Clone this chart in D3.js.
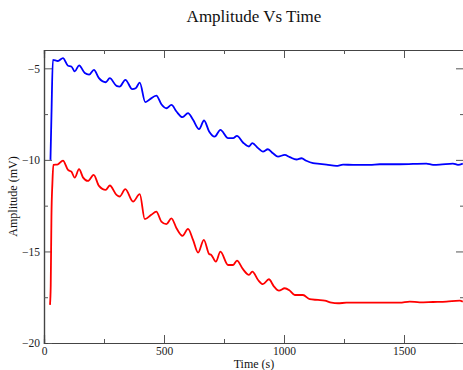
<!DOCTYPE html>
<html>
<head>
<meta charset="utf-8">
<script src="https://cdn.jsdelivr.net/npm/d3@7"></script>
<style>
  body { margin: 0; background: #fff; }
  text { font-family: "Liberation Serif", "DejaVu Serif", serif; }
</style>
</head>
<body>
<div id="chart"></div>
<script>
'use strict';

let width = 463;
let height = 370;
let margin = { top: 50, bottom: 27, left: 44, right: -1 };

// blue trace
const blueTime = [27, 31, 37, 58, 79, 100, 114, 128, 146, 170, 188, 208, 229, 257, 274, 302, 315, 339, 368, 382, 399, 422, 440, 468, 489, 510, 531, 552, 577, 600, 621, 646, 667, 688, 711, 735, 767, 788, 804, 829, 854, 868, 892, 912, 933, 954, 975, 1003, 1024, 1052, 1073, 1093, 1121, 1149, 1177, 1218, 1246, 1288, 1357, 1399, 1482, 1593, 1621, 1649, 1704, 1725, 1745];
const blueAmp = [-10.0, -7.6, -4.54, -4.6, -4.44, -4.86, -4.9, -5.17, -4.84, -5.26, -5.35, -5.08, -5.54, -5.76, -5.54, -5.96, -6.0, -5.63, -6.14, -6.09, -5.78, -6.85, -6.7, -6.49, -6.96, -7.18, -7.0, -7.36, -7.67, -7.45, -7.81, -8.32, -7.85, -8.45, -8.73, -8.36, -8.81, -8.81, -8.69, -9.05, -9.27, -9.09, -9.36, -9.55, -9.42, -9.64, -9.82, -9.73, -9.85, -9.98, -9.91, -10.05, -10.18, -10.22, -10.26, -10.33, -10.26, -10.27, -10.27, -10.24, -10.24, -10.2, -10.27, -10.26, -10.2, -10.27, -10.2];

// red trace
const redTime = [25, 28, 31, 35, 39, 58, 79, 100, 114, 128, 146, 163, 183, 207, 229, 257, 274, 302, 315, 339, 371, 399, 420, 447, 468, 489, 510, 531, 552, 577, 600, 621, 642, 666, 688, 697, 716, 735, 767, 788, 804, 829, 854, 868, 892, 912, 937, 957, 979, 1003, 1024, 1045, 1065, 1079, 1107, 1142, 1170, 1198, 1225, 1260, 1302, 1343, 1413, 1482, 1524, 1565, 1621, 1677, 1732, 1745];
const redAmp = [-17.92, -16.9, -13.1, -11.27, -10.27, -10.24, -10.04, -10.55, -10.64, -10.97, -10.51, -10.97, -11.15, -10.82, -11.42, -11.64, -11.4, -11.91, -12.0, -11.6, -12.28, -11.87, -13.24, -13.0, -12.83, -13.37, -13.51, -13.19, -13.73, -14.15, -13.77, -14.37, -15.07, -14.37, -15.14, -15.19, -15.56, -15.01, -15.74, -15.74, -15.5, -15.97, -16.28, -16.1, -16.56, -16.79, -16.52, -16.89, -17.14, -17.01, -17.14, -17.38, -17.38, -17.38, -17.61, -17.65, -17.69, -17.8, -17.83, -17.8, -17.8, -17.8, -17.8, -17.8, -17.74, -17.78, -17.76, -17.74, -17.69, -17.74];

const xMajor = [0, 500, 1000, 1500];
const xMinor = [250, 750, 1250, 1750];
const yMajor = [-20, -15, -10, -5];
const yMinor = [-17.5, -12.5, -7.5];

const svg = d3.select("#chart")
    .append("svg")
    .attr("width", width)
    .attr("height", height);

const x = d3.scaleLinear()
    .domain([0, 1750])
    .range([margin.left, width - margin.right]);

const y = d3.scaleLinear()
    .domain([-20, -4])
    .range([height - margin.bottom, margin.top]);

const plotW = width - margin.right - margin.left;
const plotH = height - margin.bottom - margin.top;

// frame ticks (all pointing inward)
function styleAxis(g) {
    g.select(".domain").attr("stroke", "#444").attr("stroke-width", 1.2);
    g.selectAll(".tick line").attr("stroke", "#555").attr("stroke-width", 1);
    g.selectAll(".tick text")
        .attr("fill", "#222")
        .style("font-size", "11.5px")
        .style("font-family", "Liberation Serif");
}

svg.append("g")
    .attr("transform", `translate(0,${height - margin.bottom})`)
    .call(d3.axisBottom(x).tickValues(xMajor).tickSize(-8).tickPadding(4).tickFormat(d3.format("d")))
    .call(styleAxis);
svg.append("g")
    .attr("transform", `translate(0,${height - margin.bottom})`)
    .call(d3.axisBottom(x).tickValues(xMinor).tickSize(-4).tickFormat(""))
    .call(styleAxis);

svg.append("g")
    .attr("transform", `translate(0,${margin.top})`)
    .call(d3.axisTop(x).tickValues(xMajor).tickSize(-8).tickFormat(""))
    .call(styleAxis);
svg.append("g")
    .attr("transform", `translate(0,${margin.top})`)
    .call(d3.axisTop(x).tickValues(xMinor).tickSize(-4).tickFormat(""))
    .call(styleAxis);

svg.append("g")
    .attr("transform", `translate(${margin.left},0)`)
    .call(d3.axisLeft(y).tickValues(yMajor).tickSize(-8).tickPadding(4))
    .call(styleAxis);
svg.append("g")
    .attr("transform", `translate(${margin.left},0)`)
    .call(d3.axisLeft(y).tickValues(yMinor).tickSize(-4).tickFormat(""))
    .call(styleAxis);

svg.append("g")
    .attr("transform", `translate(${width - margin.right},0)`)
    .call(d3.axisRight(y).tickValues(yMajor).tickSize(-8).tickFormat(""))
    .call(styleAxis);
svg.append("g")
    .attr("transform", `translate(${width - margin.right},0)`)
    .call(d3.axisRight(y).tickValues(yMinor).tickSize(-4).tickFormat(""))
    .call(styleAxis);

// the traces
svg.append("clipPath")
    .attr("id", "clip")
    .append("rect")
    .attr("x", margin.left)
    .attr("y", margin.top)
    .attr("width", plotW)
    .attr("height", plotH);

const line = d3.line()
    .x(d => x(d[0]))
    .y(d => y(d[1]))
    .curve(d3.curveMonotoneX);

const series = [
    { color: "#ff0000", pts: d3.zip(redTime, redAmp) },
    { color: "#0000ff", pts: d3.zip(blueTime, blueAmp) },
];

svg.append("g")
    .attr("clip-path", "url(#clip)")
    .selectAll("path")
    .data(series)
    .join("path")
    .attr("d", d => line(d.pts))
    .attr("fill", "none")
    .attr("stroke", d => d.color)
    .attr("stroke-width", 1.8)
    .attr("stroke-linejoin", "round");

// labels
svg.append("text")
    .attr("x", margin.left + plotW / 2)
    .attr("y", 22)
    .attr("text-anchor", "middle")
    .style("font-size", "17px")
    .attr("fill", "#111")
    .text("Amplitude Vs Time");

svg.append("text")
    .attr("x", margin.left + plotW / 2)
    .attr("y", 368)
    .attr("text-anchor", "middle")
    .style("font-size", "12px")
    .attr("fill", "#111")
    .text("Time (s)");

svg.append("text")
    .attr("transform", `translate(17,${margin.top + plotH / 2}) rotate(-90)`)
    .attr("text-anchor", "middle")
    .style("font-size", "12px")
    .attr("fill", "#111")
    .text("Amplitude (mV)");
</script>
</body>
</html>
